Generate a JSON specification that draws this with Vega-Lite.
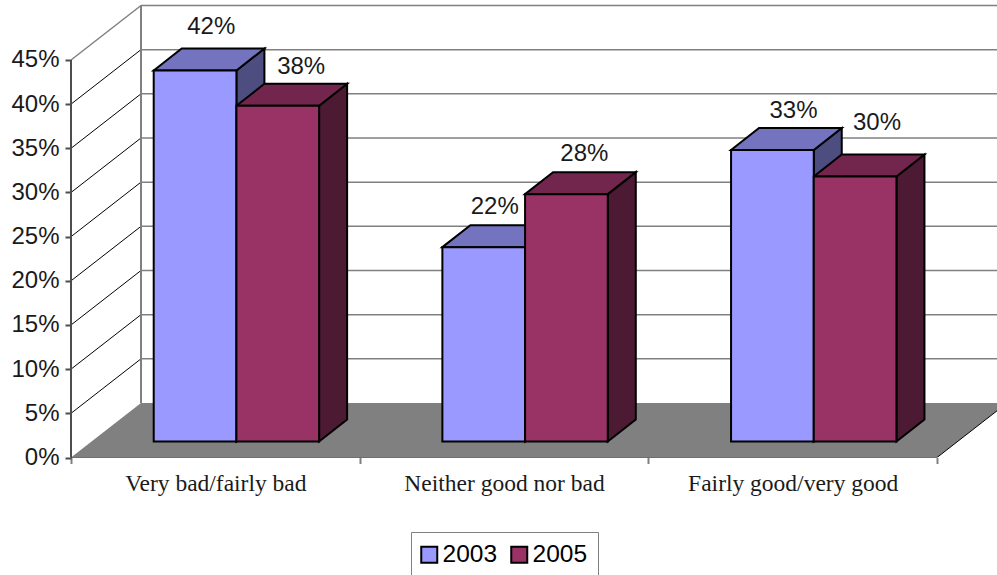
{
  "$schema": "https://vega.github.io/schema/vega-lite/v6.json",
  "autosize": {"type": "none"},
  "padding": {"left": 71, "top": 0, "right": 0, "bottom": 117.5},
  "width": 926,
  "height": 457.5,
  "background": "white",
  "config": {"view": {"stroke": null}, "font": "Liberation Sans"},
  "params": [
    {"name": "DX", "value": 0.2425},
    {"name": "DY", "value": 6.17},
    {"name": "W", "value": 0.2865},
    {"name": "SX", "value": 0.097},
    {"name": "SY", "value": 2.49},
    {"name": "B", "value": 1.811}
  ],
  "datasets": {
    "bars": [
      {"category": "Very bad/fairly bad", "series": "2003", "value": 42},
      {"category": "Very bad/fairly bad", "series": "2005", "value": 38},
      {"category": "Neither good nor bad", "series": "2003", "value": 22},
      {"category": "Neither good nor bad", "series": "2005", "value": 28},
      {"category": "Fairly good/very good", "series": "2003", "value": 33},
      {"category": "Fairly good/very good", "series": "2005", "value": 30}
    ],
    "grid": [
      {"pct": 0}, {"pct": 5}, {"pct": 10}, {"pct": 15}, {"pct": 20},
      {"pct": 25}, {"pct": 30}, {"pct": 35}, {"pct": 40}, {"pct": 45}
    ]
  },
  "layer": [
    {
      "data": {"values": [{"surface": "floor"}]},
      "transform": [
        {"calculate": "[0, 1, 2, 3]", "as": "corner"},
        {"flatten": ["corner"]},
        {"calculate": "[0, DX, 3, 3 + DX][datum.corner]", "as": "fx"},
        {"calculate": "[0, DY, DY, DY][datum.corner]", "as": "fy"},
        {"calculate": "[0, 0, 0, DY][datum.corner]", "as": "fy2"}
      ],
      "mark": {"type": "area", "orient": "vertical", "fill": "#808080", "clip": true},
      "encoding": {
        "x": {
          "field": "fx", "type": "quantitative",
          "scale": {"domain": [0, 3.2078], "nice": false, "zero": false},
          "axis": {"values": [0, 1, 2, 3], "labels": false, "domain": false, "title": null, "grid": false, "tickSize": 6, "tickColor": "#808080", "tickWidth": 2}
        },
        "y": {
          "field": "fy", "type": "quantitative",
          "scale": {"domain": [0, 51.79], "nice": false, "zero": false},
          "axis": {"values": [0, 5, 10, 15, 20, 25, 30, 35, 40, 45], "labelExpr": "datum.value + '%'", "domain": false, "title": null, "grid": false, "tickSize": 6, "tickColor": "#4d4d4d", "tickWidth": 2, "labelFontSize": 24, "labelColor": "#1a1a1a", "labelPadding": 6, "labelFont": "Liberation Sans"}
        },
        "y2": {"field": "fy2"}
      }
    },
    {
      "data": {"name": "grid"},
      "transform": [
        {"filter": "datum.pct > 0"},
        {"calculate": "[0, 1]", "as": "end"},
        {"flatten": ["end"]},
        {"calculate": "datum.end * 3.3", "as": "gx"},
        {"calculate": "datum.pct + DY", "as": "gy"},
        {"calculate": "DX + datum.gx", "as": "gxs"}
      ],
      "mark": {"type": "line", "stroke": "#808080", "strokeWidth": 1.5, "clip": true},
      "encoding": {
        "x": {"field": "gxs", "type": "quantitative", "scale": {"domain": [0, 3.2078], "nice": false, "zero": false}, "axis": null},
        "y": {"field": "gy", "type": "quantitative", "scale": {"domain": [0, 51.79], "nice": false, "zero": false}, "axis": null},
        "detail": {"field": "pct"}
      }
    },
    {
      "data": {"name": "grid"},
      "transform": [
        {"filter": "datum.pct > 0 && datum.pct < 45"},
        {"calculate": "[0, 1]", "as": "end"},
        {"flatten": ["end"]},
        {"calculate": "datum.end * DX", "as": "gx"},
        {"calculate": "datum.pct + datum.end * DY", "as": "gy"}
      ],
      "mark": {"type": "line", "stroke": "#000000", "strokeWidth": 1},
      "encoding": {
        "x": {"field": "gx", "type": "quantitative", "scale": {"domain": [0, 3.2078], "nice": false, "zero": false}, "axis": null},
        "y": {"field": "gy", "type": "quantitative", "scale": {"domain": [0, 51.79], "nice": false, "zero": false}, "axis": null},
        "detail": {"field": "pct"}
      }
    },
    {
      "data": {"name": "grid"},
      "transform": [
        {"filter": "datum.pct == 45"},
        {"calculate": "[0, 1]", "as": "end"},
        {"flatten": ["end"]},
        {"calculate": "datum.end * DX", "as": "gx"},
        {"calculate": "datum.pct + datum.end * DY", "as": "gy"}
      ],
      "mark": {"type": "line", "stroke": "#808080", "strokeWidth": 1.5},
      "encoding": {
        "x": {"field": "gx", "type": "quantitative", "scale": {"domain": [0, 3.2078], "nice": false, "zero": false}, "axis": null},
        "y": {"field": "gy", "type": "quantitative", "scale": {"domain": [0, 51.79], "nice": false, "zero": false}, "axis": null}
      }
    },
    {
      "data": {"values": [{"edge": "back wall"}]},
      "mark": {"type": "rule", "stroke": "#808080", "strokeWidth": 2},
      "encoding": {
        "x": {"datum": 0.2425, "type": "quantitative", "scale": {"domain": [0, 3.2078], "nice": false, "zero": false}, "axis": null},
        "y": {"datum": 6.17, "type": "quantitative", "scale": {"domain": [0, 51.79], "nice": false, "zero": false}, "axis": null},
        "y2": {"datum": 51.17}
      }
    },
    {
      "data": {"values": [{"edge": "value axis"}]},
      "mark": {"type": "rule", "stroke": "#4d4d4d", "strokeWidth": 2},
      "encoding": {
        "x": {"datum": 0, "type": "quantitative", "scale": {"domain": [0, 3.2078], "nice": false, "zero": false}, "axis": null},
        "y": {"datum": 0, "type": "quantitative", "scale": {"domain": [0, 51.79], "nice": false, "zero": false}, "axis": null},
        "y2": {"datum": 45}
      }
    },
    {
      "data": {"values": [{"edge": "floor front"}, {"edge": "floor right"}]},
      "transform": [
        {"calculate": "[0, 1]", "as": "end"},
        {"flatten": ["end"]},
        {"calculate": "datum.edge == 'floor front' ? 3 * datum.end : 3 + DX * datum.end", "as": "ex"},
        {"calculate": "datum.edge == 'floor front' ? 0 : DY * datum.end", "as": "ey"}
      ],
      "mark": {"type": "line", "stroke": "#000000", "strokeWidth": 1, "clip": true},
      "encoding": {
        "x": {
          "field": "ex", "type": "quantitative",
          "scale": {"domain": [0, 3.2078], "nice": false, "zero": false},
          "axis": {"values": [0.5, 1.5, 2.5], "orient": "bottom", "labelExpr": "['Very bad/fairly bad', 'Neither good nor bad', 'Fairly good/very good'][floor(datum.value)]", "ticks": false, "domain": false, "title": null, "grid": false, "labelFont": "Liberation Serif", "labelFontSize": 23.5, "labelColor": "#1a1a1a", "labelPadding": 14, "labelLimit": 0}
        },
        "y": {"field": "ey", "type": "quantitative", "scale": {"domain": [0, 51.79], "nice": false, "zero": false}, "axis": null},
        "detail": {"field": "edge"}
      }
    },
    {
      "data": {"name": "bars"},
      "transform": [
        {"calculate": "indexof(['Very bad/fairly bad', 'Neither good nor bad', 'Fairly good/very good'], datum.category)", "as": "ci"},
        {"calculate": "indexof(['2003', '2005'], datum.series)", "as": "si"},
        {"calculate": "datum.ci + 0.2865 + W * datum.si", "as": "left"},
        {"calculate": "datum.left + W", "as": "right"},
        {"calculate": "B + datum.value", "as": "top"}
      ],
      "layer": [
        {
          "transform": [
            {"filter": "datum.series == '2003'"},
            {"calculate": "[0, 1]", "as": "c"},
            {"flatten": ["c"]},
            {"calculate": "datum.right + SX * datum.c", "as": "sx"},
            {"calculate": "datum.top + SY * datum.c", "as": "sy"},
            {"calculate": "B + SY * datum.c", "as": "sy2"}
          ],
          "mark": {"type": "area", "orient": "vertical", "fill": "#4D4D80", "stroke": "#000000", "strokeWidth": 2},
          "encoding": {
            "x": {"field": "sx", "type": "quantitative", "scale": {"domain": [0, 3.2078], "nice": false, "zero": false}, "axis": null},
            "y": {"field": "sy", "type": "quantitative", "scale": {"domain": [0, 51.79], "nice": false, "zero": false}, "axis": null},
            "y2": {"field": "sy2"},
            "detail": {"field": "category"}
          }
        },
        {
          "transform": [
            {"filter": "datum.series == '2003'"},
            {"calculate": "[0, 1, 2, 3]", "as": "c"},
            {"flatten": ["c"]},
            {"calculate": "[datum.left, datum.left + SX, datum.right, datum.right + SX][datum.c]", "as": "tx"},
            {"calculate": "datum.top + (datum.c == 0 ? 0 : SY)", "as": "ty"},
            {"calculate": "datum.top + (datum.c == 3 ? SY : 0)", "as": "ty2"}
          ],
          "mark": {"type": "area", "orient": "vertical", "fill": "#7373BF", "stroke": "#000000", "strokeWidth": 2},
          "encoding": {
            "x": {"field": "tx", "type": "quantitative", "scale": {"domain": [0, 3.2078], "nice": false, "zero": false}, "axis": null},
            "y": {"field": "ty", "type": "quantitative", "scale": {"domain": [0, 51.79], "nice": false, "zero": false}, "axis": null},
            "y2": {"field": "ty2"},
            "detail": {"field": "category"}
          }
        },
        {
          "transform": [
            {"filter": "datum.series == '2005'"},
            {"calculate": "[0, 1]", "as": "c"},
            {"flatten": ["c"]},
            {"calculate": "datum.right + SX * datum.c", "as": "sx"},
            {"calculate": "datum.top + SY * datum.c", "as": "sy"},
            {"calculate": "B + SY * datum.c", "as": "sy2"}
          ],
          "mark": {"type": "area", "orient": "vertical", "fill": "#4D1A33", "stroke": "#000000", "strokeWidth": 2},
          "encoding": {
            "x": {"field": "sx", "type": "quantitative", "scale": {"domain": [0, 3.2078], "nice": false, "zero": false}, "axis": null},
            "y": {"field": "sy", "type": "quantitative", "scale": {"domain": [0, 51.79], "nice": false, "zero": false}, "axis": null},
            "y2": {"field": "sy2"},
            "detail": {"field": "category"}
          }
        },
        {
          "transform": [
            {"filter": "datum.series == '2005'"},
            {"calculate": "[0, 1, 2, 3]", "as": "c"},
            {"flatten": ["c"]},
            {"calculate": "[datum.left, datum.left + SX, datum.right, datum.right + SX][datum.c]", "as": "tx"},
            {"calculate": "datum.top + (datum.c == 0 ? 0 : SY)", "as": "ty"},
            {"calculate": "datum.top + (datum.c == 3 ? SY : 0)", "as": "ty2"}
          ],
          "mark": {"type": "area", "orient": "vertical", "fill": "#73264D", "stroke": "#000000", "strokeWidth": 2},
          "encoding": {
            "x": {"field": "tx", "type": "quantitative", "scale": {"domain": [0, 3.2078], "nice": false, "zero": false}, "axis": null},
            "y": {"field": "ty", "type": "quantitative", "scale": {"domain": [0, 51.79], "nice": false, "zero": false}, "axis": null},
            "y2": {"field": "ty2"},
            "detail": {"field": "category"}
          }
        },
        {
          "transform": [{"calculate": "B", "as": "base"}],
          "mark": {"type": "rect", "stroke": "#000000", "strokeWidth": 2},
          "encoding": {
            "x": {"field": "left", "type": "quantitative", "scale": {"domain": [0, 3.2078], "nice": false, "zero": false}, "axis": null},
            "x2": {"field": "right"},
            "y": {"field": "top", "type": "quantitative", "scale": {"domain": [0, 51.79], "nice": false, "zero": false}, "axis": null},
            "y2": {"field": "base"},
            "color": {
              "field": "series", "type": "nominal",
              "scale": {"domain": ["2003", "2005"], "range": ["#9999FF", "#993366"]},
              "legend": {
                "title": null, "orient": "none", "legendX": 340, "legendY": 532, "direction": "horizontal",
                "padding": 10, "strokeColor": "#808080", "fillColor": "white",
                "symbolType": "square", "symbolSize": 256, "symbolStrokeColor": "#000000", "symbolStrokeWidth": 2,
                "symbolOffset": -4,
                "labelFont": "Liberation Sans", "labelFontSize": 24.5, "labelColor": "#000000", "labelOffset": 1, "columnPadding": 9
              }
            }
          }
        },
        {
          "transform": [
            {"calculate": "datum.ci * 2 + datum.si", "as": "k"},
            {"calculate": "datum.left + W / 2 + [0.056, 0.081, 0.038, 0.062, 0.073, 0.076][datum.k]", "as": "lx"},
            {"calculate": "datum.top + [4.9, 4.4, 4.6, 4.5, 4.4, 6.1][datum.k]", "as": "ly"},
            {"calculate": "datum.value + '%'", "as": "label"}
          ],
          "mark": {"type": "text", "font": "Liberation Sans", "fontSize": 24, "fill": "#1a1a1a", "align": "center", "baseline": "middle"},
          "encoding": {
            "x": {"field": "lx", "type": "quantitative", "scale": {"domain": [0, 3.2078], "nice": false, "zero": false}, "axis": null},
            "y": {"field": "ly", "type": "quantitative", "scale": {"domain": [0, 51.79], "nice": false, "zero": false}, "axis": null},
            "text": {"field": "label"}
          }
        }
      ]
    }
  ],
  "resolve": {"axis": {"x": "independent", "y": "independent"}}
}
